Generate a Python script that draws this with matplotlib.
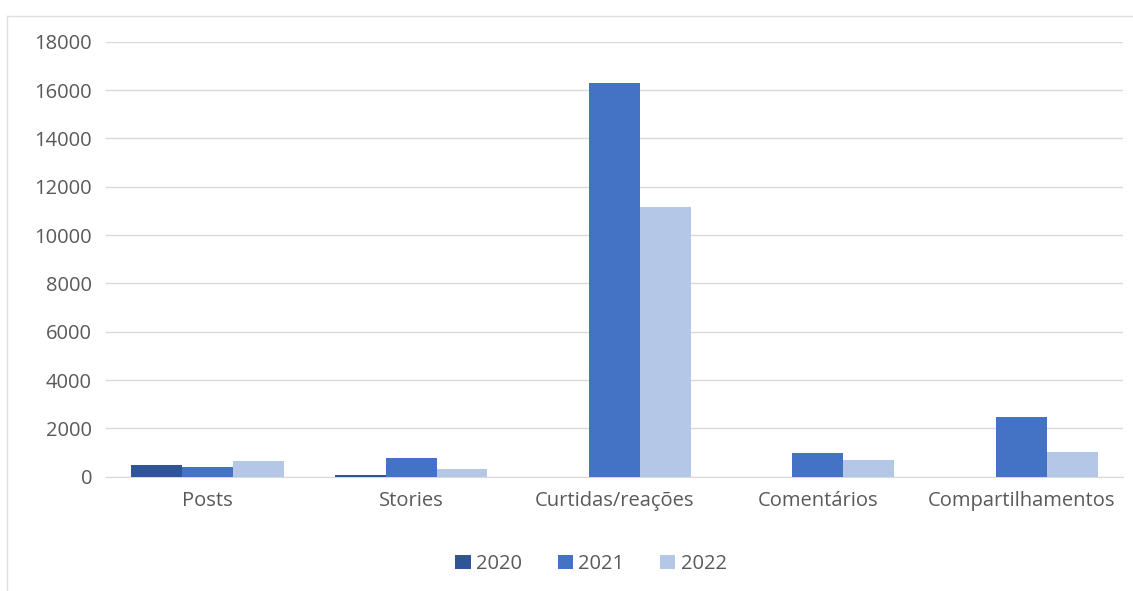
import matplotlib
matplotlib.use("Agg")
import matplotlib.pyplot as plt
from matplotlib.lines import Line2D
import numpy as np

categories = ["Posts", "Stories", "Curtidas/reações", "Comentários", "Compartilhamentos"]
years = ["2020", "2021", "2022"]
v2020 = [480, 50, 0, 0, 0]
v2021 = [390, 760, 16300, 980, 2470]
v2022 = [630, 330, 11150, 700, 1030]
colors = ["#2F5597", "#4472C4", "#B4C7E7"]

plt.rcParams['font.family'] = ['Open Sans', 'DejaVu Sans']
fig = plt.figure(figsize=(11.33, 5.91), dpi=100)
L, R, T, B = 106, 1123, 41.7, 476.7
ax = fig.add_axes([L/1133, 1-B/591, (R-L)/1133, (B-T)/591])

x = np.arange(len(categories))
w = 0.25
for i, (vals, yr) in enumerate(zip([v2020, v2021, v2022], years)):
    ax.bar(x + (i-1)*w, vals, width=w, color=colors[i], label=yr, zorder=3)

ax.set_xlim(-0.5, len(categories)-0.5)
ax.set_ylim(0, 18000)
ax.set_yticks(range(0, 18001, 2000))
ax.set_xticks(x)
ax.set_xticklabels(categories)
ax.yaxis.grid(True, color="#D9D9D9", linewidth=1, zorder=0)
for s in ax.spines.values():
    s.set_visible(False)
ax.spines['bottom'].set_visible(True)
ax.spines['bottom'].set_color("#D9D9D9")
ax.tick_params(axis='both', length=0, colors="#595959", labelsize=14.5)
ax.tick_params(axis='y', pad=10)
ax.tick_params(axis='x', pad=10)

leg = ax.legend(loc='center', bbox_to_anchor=((591-L)/(R-L), (B-564)/(B-T)), ncol=3, frameon=False,
                fontsize=14.5, handlelength=0.75, handleheight=0.75, handletextpad=0.25,
                columnspacing=1.8, labelcolor="#595959")

fig.add_artist(Line2D([7/1133, 1], [1-16/591, 1-16/591], color="#E0E0E0", linewidth=1))
fig.add_artist(Line2D([7/1133, 7/1133], [0, 1-16/591], color="#E0E0E0", linewidth=1))

fig.savefig("out.png", dpi=100)
